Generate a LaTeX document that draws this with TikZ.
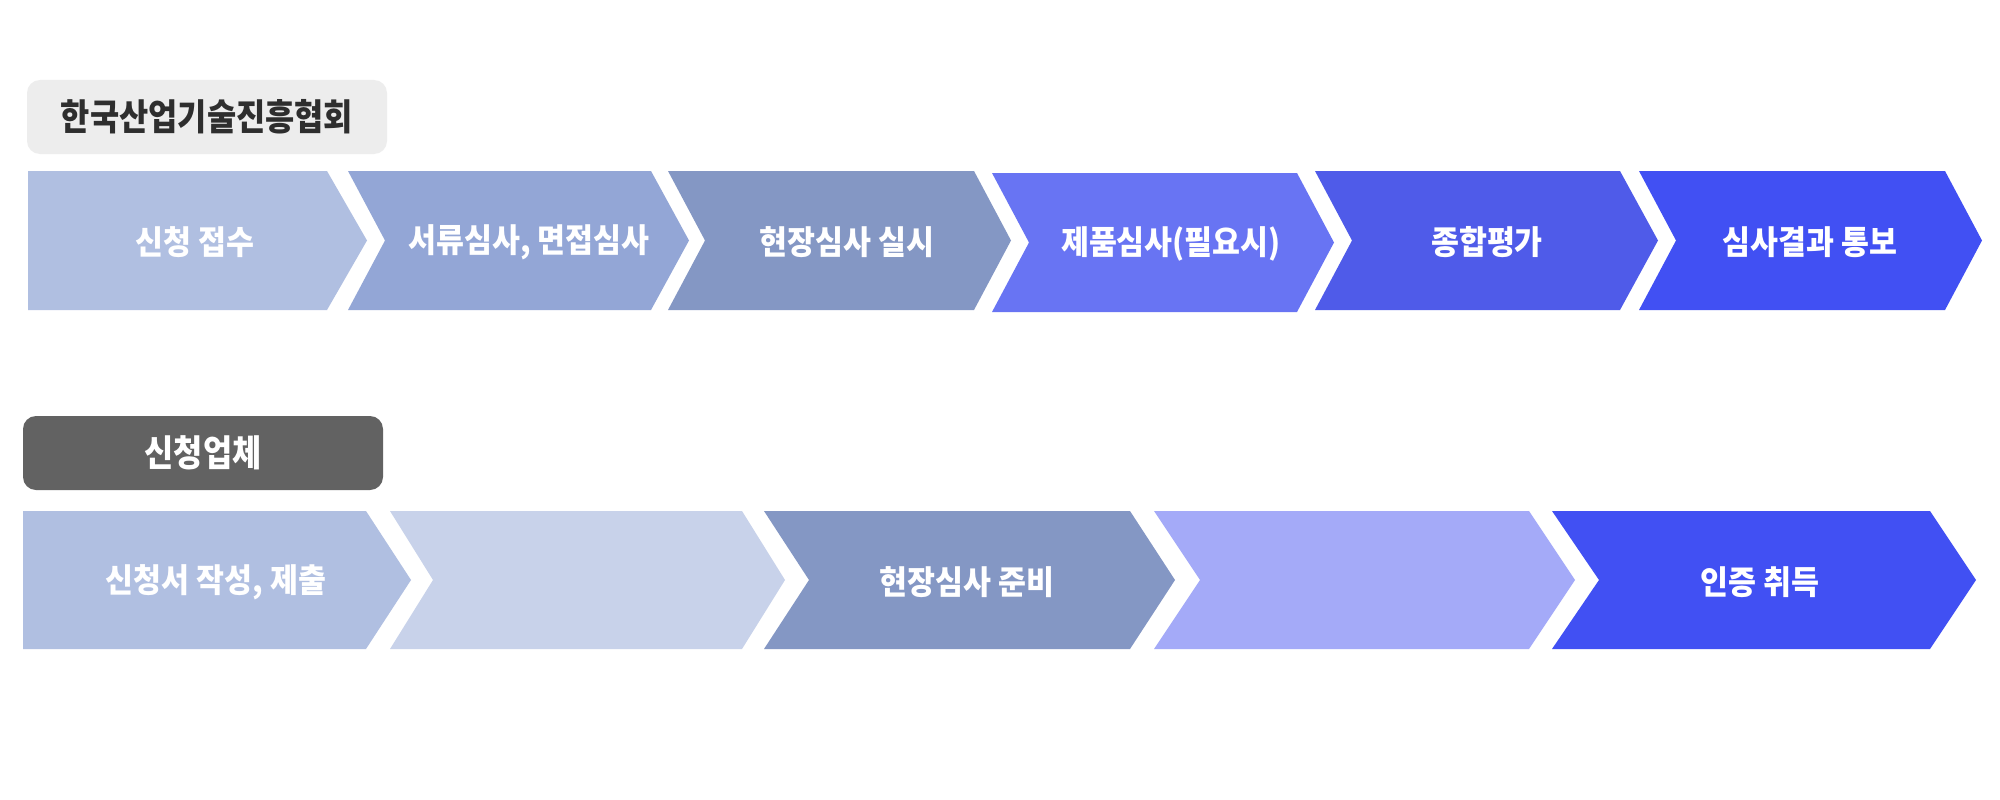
\documentclass[tikz,border=0pt]{standalone}
\usepackage{fontspec}
\newfontfamily\krtext{Noto Sans CJK KR}[FakeStretch=0.92]
\newfontfamily\krtitle{Noto Sans CJK KR}[FakeStretch=0.87]
\definecolor{cA}{HTML}{B0BFE1}
\definecolor{cB}{HTML}{93A6D6}
\definecolor{cC}{HTML}{8497C4}
\definecolor{cD}{HTML}{6874F3}
\definecolor{cE}{HTML}{4F5BE9}
\definecolor{cF}{HTML}{4150F3}
\definecolor{cG}{HTML}{C8D2EA}
\definecolor{cH}{HTML}{A4AAF8}
\definecolor{boxlight}{HTML}{EDEDED}
\definecolor{boxdark}{HTML}{626262}
\definecolor{titledark}{HTML}{2E2E2E}
\newcommand{\mychev}[7]{\fill[#1] (#2,#6) -- (#4,#6) -- (#5,{(#6+#7)/2}) -- (#4,#7) -- (#2,#7) -- (#3,{(#6+#7)/2}) -- cycle;}
\tikzset{
  steplabel/.style={text=white, font=\krtext\bfseries\fontsize{33}{38}\selectfont, inner sep=0pt, anchor=center},
  titlebox/.style={rounded corners=13pt, inner sep=0pt, minimum width=360pt, minimum height=74pt, font=\krtitle\bfseries\fontsize{36.5}{42}\selectfont}
}
\begin{document}
\begin{tikzpicture}[x=1pt,y=-1pt]
\useasboundingbox (0,0) rectangle (2000,800);
\fill[white] (0,0) rectangle (2000,800);
% title boxes
\node[titlebox, fill=boxlight, text=titledark] (t1) at (207,117) {한국산업기술진흥협회};
\node[titlebox, fill=boxdark, text=white] (t2) at (203,453) {신청업체};
% row 1
\mychev{cA}{28}{28}{327}{367}{171}{310}
\mychev{cB}{348}{385}{651}{689}{171}{310}
\mychev{cC}{668}{705}{974}{1011}{171}{310}
\mychev{cD}{992}{1029}{1297}{1334}{173}{312}
\mychev{cE}{1315}{1352}{1620}{1658}{171}{310}
\mychev{cF}{1639}{1676}{1945}{1982}{171}{310}
\node[steplabel] (a1) at (195,242) {신청 접수};
\node[steplabel] (a2) at (529,242) {서류심사, 면접심사};
\node[steplabel] (a3) at (847,242) {현장심사 실시};
\node[steplabel] (a4) at (1171,244) {제품심사(필요시)};
\node[steplabel] (a5) at (1487,242) {종합평가};
\node[steplabel] (a6) at (1810,242) {심사결과 통보};
% row 2
\mychev{cA}{23}{23}{366}{411}{511}{649}
\mychev{cG}{390}{433}{742}{785}{511}{649}
\mychev{cC}{764}{809}{1130}{1175}{511}{649}
\mychev{cH}{1154}{1200}{1529}{1575}{511}{649}
\mychev{cF}{1552}{1599}{1930}{1976}{511}{649}
\node[steplabel] (b1) at (216,582) {신청서 작성, 제출};
\node[steplabel] (b3) at (967,582) {현장심사 준비};
\node[steplabel] (b5) at (1760,582) {인증 취득};
\end{tikzpicture}
\end{document}
